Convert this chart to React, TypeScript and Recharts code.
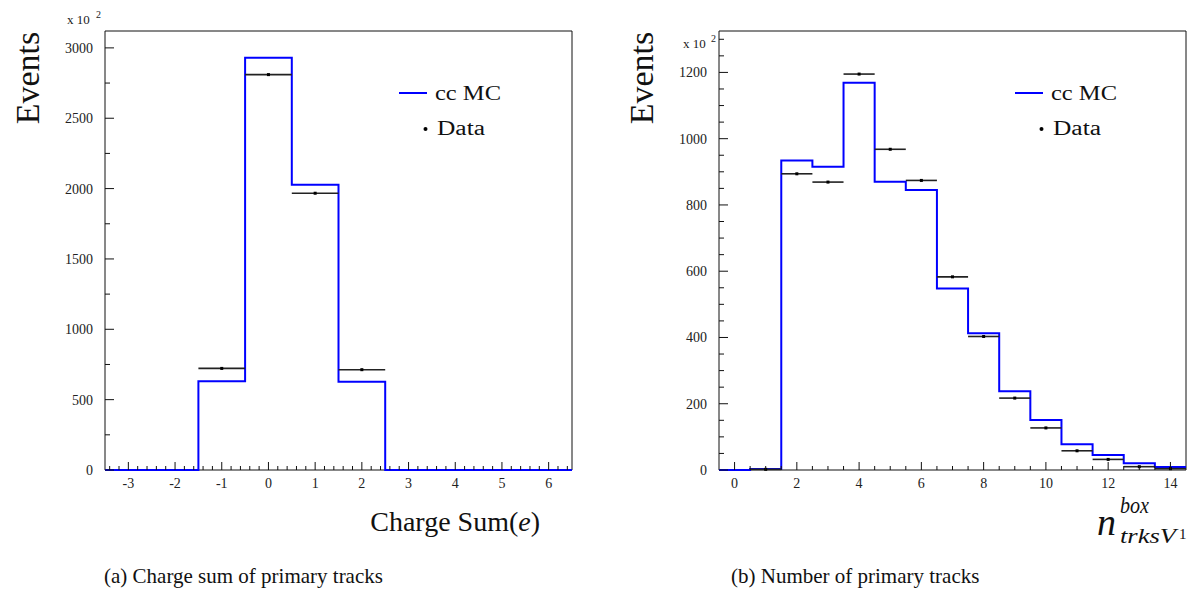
import React from "react";
import {
  ComposedChart,
  Line,
  Scatter,
  ErrorBar,
  XAxis,
  YAxis,
  ReferenceArea,
} from "recharts";

// (a) charge sum, events in units of 10^2
const chargeBins = [-3, -2, -1, 0, 1, 2, 3, 4, 5, 6];
const chargeMC = [0, 0, 630, 2930, 2028, 628, 0, 0, 0, 0];
const chargeData = [0, 0, 722, 2810, 1967, 713, 0, 0, 0, 0];
const chargeXLabels = [-3, -2, -1, 0, 1, 2, 3, 4, 5, 6];
const chargeYLabels = [0, 500, 1000, 1500, 2000, 2500, 3000];

// (b) number of primary tracks
const ntrkBins = [0, 1, 2, 3, 4, 5, 6, 7, 8, 9, 10, 11, 12, 13, 14];
const ntrkMC = [0, 3, 934, 915, 1169, 870, 845, 548, 413, 238, 151, 78, 45, 20, 9];
const ntrkData = [0, 2, 894, 869, 1195, 968, 874, 583, 403, 217, 127, 58, 32, 10, 4];
const ntrkXLabels = [0, 2, 4, 6, 8, 10, 12, 14];
const ntrkYLabels = [0, 200, 400, 600, 800, 1000, 1200];

const SERIF = "'Liberation Serif', 'DejaVu Serif', serif";

// step line points: left edge of every bin, plus closing right edge
function stepPoints(bins: number[], vals: number[]) {
  const pts = bins.map((b, i) => ({ x: b - 0.5, y: vals[i] }));
  pts.push({ x: bins[bins.length - 1] + 0.5, y: vals[vals.length - 1] });
  return pts;
}

function dataPoints(bins: number[], vals: number[]) {
  return bins
    .map((b, i) => ({ x: b, y: vals[i], ex: 0.5 }))
    .filter((p) => p.y > 0);
}

function subTicks(from: number, to: number, step: number) {
  const out: number[] = [];
  const n = Math.round((to - from) / step);
  for (let i = 0; i <= n; i++) out.push(Math.round((from + i * step) * 1000) / 1000);
  return out;
}

function makeXTick(labels: number[], major: number, minor: number) {
  return (props: any) => {
    const { x, y, payload } = props;
    const v = payload.value;
    const isMajor = labels.includes(v);
    return (
      <g>
        <line x1={x} x2={x} y1={y} y2={y - (isMajor ? major : minor)} stroke="#111" strokeWidth={1} />
        {isMajor && (
          <text x={x} y={y + 18} textAnchor="middle" fontSize={14} fontFamily={SERIF} fill="#222">
            {v}
          </text>
        )}
      </g>
    );
  };
}

function makeYTick(labels: number[], major: number, minor: number) {
  return (props: any) => {
    const { x, y, payload } = props;
    const v = payload.value;
    const isMajor = labels.includes(v);
    return (
      <g>
        <line x1={x} x2={x + (isMajor ? major : minor)} y1={y} y2={y} stroke="#111" strokeWidth={1} />
        {isMajor && (
          <text x={x - 12} y={y + 5} textAnchor="end" fontSize={14} fontFamily={SERIF} fill="#222">
            {v}
          </text>
        )}
      </g>
    );
  };
}

function Hist({
  width,
  margin,
  bins,
  mc,
  data,
  xDomain,
  yMax,
  xTicks,
  yTicks,
  xLabels,
  yLabels,
}: any) {
  return (
    <ComposedChart width={width} height={601} margin={margin}>
      <XAxis
        type="number"
        dataKey="x"
        domain={xDomain}
        ticks={xTicks}
        interval={0}
        height={40}
        axisLine={false}
        tickLine={false}
        tickSize={0}
        tickMargin={0}
        tick={makeXTick(xLabels, 8, 4)}
      />
      <YAxis
        type="number"
        domain={[0, yMax]}
        ticks={yTicks}
        interval={0}
        width={50}
        axisLine={false}
        tickLine={false}
        tickSize={0}
        tickMargin={0}
        tick={makeYTick(yLabels, 9, 5)}
      />
      <ReferenceArea
        x1={xDomain[0]}
        x2={xDomain[1]}
        y1={0}
        y2={yMax}
        fill="none"
        stroke="#111"
        strokeWidth={1}
      />
      <Line
        data={stepPoints(bins, mc)}
        dataKey="y"
        type="stepAfter"
        stroke="#0000ff"
        strokeWidth={2}
        dot={false}
        activeDot={false}
        isAnimationActive={false}
      />
      <Scatter
        data={dataPoints(bins, data)}
        dataKey="y"
        isAnimationActive={false}
        shape={(p: any) => (
          <rect x={p.cx - 1.5} y={p.cy - 1.5} width={3} height={3} fill="#000" />
        )}
      >
        <ErrorBar dataKey="ex" direction="x" width={0} stroke="#222" strokeWidth={1.6} />
      </Scatter>
    </ComposedChart>
  );
}

export default function App() {
  return (
    <div
      style={{
        position: "absolute",
        left: 0,
        top: 0,
        width: 1191,
        height: 601,
        background: "#fff",
        fontFamily: SERIF,
      }}
    >
      <div style={{ position: "absolute", left: 0, top: 0 }}>
        <Hist
          width={600}
          margin={{ top: 31, right: 28, bottom: 91, left: 55 }}
          bins={chargeBins}
          mc={chargeMC}
          data={chargeData}
          xDomain={[-3.5, 6.5]}
          yMax={3120}
          xTicks={subTicks(-3.4, 6.4, 0.2)}
          yTicks={subTicks(0, 3000, 250)}
          xLabels={chargeXLabels}
          yLabels={chargeYLabels}
        />
      </div>
      <div style={{ position: "absolute", left: 600, top: 0 }}>
        <Hist
          width={591}
          margin={{ top: 31, right: 5, bottom: 91, left: 69 }}
          bins={ntrkBins}
          mc={ntrkMC}
          data={ntrkData}
          xDomain={[-0.5, 14.5]}
          yMax={1325}
          xTicks={subTicks(0, 14, 0.5)}
          yTicks={subTicks(0, 1300, 50)}
          xLabels={ntrkXLabels}
          yLabels={ntrkYLabels}
        />
      </div>

      <svg
        width={1191}
        height={601}
        style={{ position: "absolute", left: 0, top: 0, pointerEvents: "none" }}
        fontFamily={SERIF}
      >
        {/* left panel texts */}
        <text x={67} y={24} fontSize={13} fill="#222">x 10</text>
        <text x={96} y={18} fontSize={10} fill="#222">2</text>
        <text transform="translate(39,78) rotate(-90)" textAnchor="middle" fontSize={34} fill="#111">
          Events
        </text>
        <text x={540} y={531} textAnchor="end" fontSize={28} fill="#111">
          Charge Sum(<tspan fontStyle="italic">e</tspan>)
        </text>
        <line x1={399} x2={427} y1={93} y2={93} stroke="#0000ff" strokeWidth={2} />
        <text x={435} y={100} fontSize={20} fill="#111" textLength={66} lengthAdjust="spacingAndGlyphs">cc MC</text>
        <circle cx={425.5} cy={129} r={2} fill="#000" />
        <text x={437} y={135} fontSize={20} fill="#111" textLength={48} lengthAdjust="spacingAndGlyphs">Data</text>
        <text x={104} y={583} fontSize={21} fill="#111">(a) Charge sum of primary tracks</text>

        {/* right panel texts */}
        <text x={683} y={48} fontSize={13} fill="#222">x 10</text>
        <text x={711} y={42} fontSize={10} fill="#222">2</text>
        <text transform="translate(653,78) rotate(-90)" textAnchor="middle" fontSize={34} fill="#111">
          Events
        </text>
        <text x={1097} y={535} fontSize={38} fontStyle="italic" fill="#111">n</text>
        <text x={1120} y={513} fontSize={24} fontStyle="italic" fill="#111" textLength={29} lengthAdjust="spacingAndGlyphs">box</text>
        <text x={1120} y={543} fontSize={21} fontStyle="italic" fill="#111" textLength={56} lengthAdjust="spacingAndGlyphs">trksV</text>
        <text x={1179} y={539} fontSize={15} fill="#111">1</text>
        <line x1={1015} x2={1043} y1={93} y2={93} stroke="#0000ff" strokeWidth={2} />
        <text x={1051} y={100} fontSize={20} fill="#111" textLength={66} lengthAdjust="spacingAndGlyphs">cc MC</text>
        <circle cx={1041.5} cy={129} r={2} fill="#000" />
        <text x={1053} y={135} fontSize={20} fill="#111" textLength={48} lengthAdjust="spacingAndGlyphs">Data</text>
        <text x={731} y={583} fontSize={21} fill="#111">(b) Number of primary tracks</text>
      </svg>
    </div>
  );
}
